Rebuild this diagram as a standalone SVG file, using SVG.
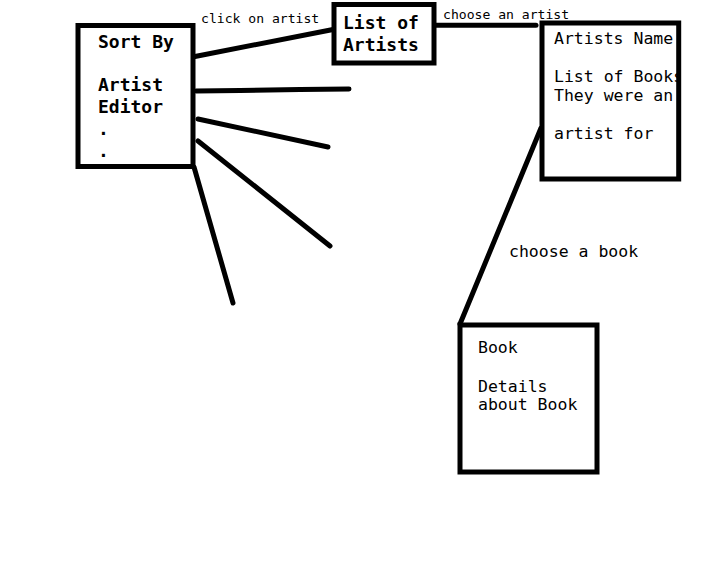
<svg xmlns="http://www.w3.org/2000/svg" width="707" height="577" viewBox="0 0 707 577">
<style>
.box{fill:#fff;stroke:#000;stroke-width:5}
.ln{stroke:#000;stroke-width:5;stroke-linecap:round;fill:none}
.b{font-family:"DejaVu Sans Mono",monospace;font-size:18px;font-weight:bold;fill:#000}
.t{font-family:"DejaVu Sans Mono",monospace;font-size:16.5px;fill:#000}
.s{font-family:"DejaVu Sans Mono",monospace;font-size:13.1px;fill:#000}
</style>
<defs>
<clipPath id="c3"><rect x="540" y="20" width="137" height="160"/></clipPath>
</defs>
<rect width="707" height="577" fill="#fff"/>
<g id="connectors">
<line class="ln" x1="195" y1="56.5" x2="333" y2="29.5"/>
<polyline class="ln" points="196,91 240,90.5 300,89.5 349,89"/>
<line class="ln" x1="198" y1="119" x2="328" y2="147"/>
<line class="ln" x1="198" y1="141" x2="330" y2="246"/>
<line class="ln" x1="194" y1="167" x2="233" y2="303"/>
<line class="ln" x1="434" y1="25.3" x2="536" y2="25.3"/>
<line class="ln" x1="541" y1="128" x2="460" y2="324"/>
<text class="s" x="201" y="23">click on artist</text>
<text class="s" x="443" y="19">choose an artist</text>
<text class="t" x="509" y="256.5">choose a book</text>
</g>
<g id="sortby">
<rect class="box" x="78" y="25.5" width="115" height="141"/>
<text class="b" x="98" y="47.5">Sort By</text>
<text class="b" x="98" y="91">Artist</text>
<text class="b" x="98" y="113">Editor</text>
<text class="b" x="98" y="135">.</text>
<text class="b" x="98" y="157">.</text>
</g>
<g id="listofartists">
<rect class="box" x="334" y="4.5" width="100" height="58.5"/>
<text class="b" x="343" y="29.3">List of</text>
<text class="b" x="343" y="51">Artists</text>
</g>
<g id="artistsname">
<g clip-path="url(#c3)">
<text class="t" x="554" y="43.6">Artists Name</text>
<text class="t" x="554" y="81.6">List of Books</text>
<text class="t" x="554" y="100.6">They were an</text>
<text class="t" x="554" y="138.6">artist for</text>
</g>
<rect class="box" x="542" y="23" width="136.7" height="156" style="fill:none"/>
</g>
<g id="book">
<rect class="box" x="460" y="325" width="137" height="147"/>
<text class="t" x="478" y="353.3">Book</text>
<text class="t" x="478" y="391.7">Details</text>
<text class="t" x="478" y="410.3">about Book</text>
</g>
</svg>
